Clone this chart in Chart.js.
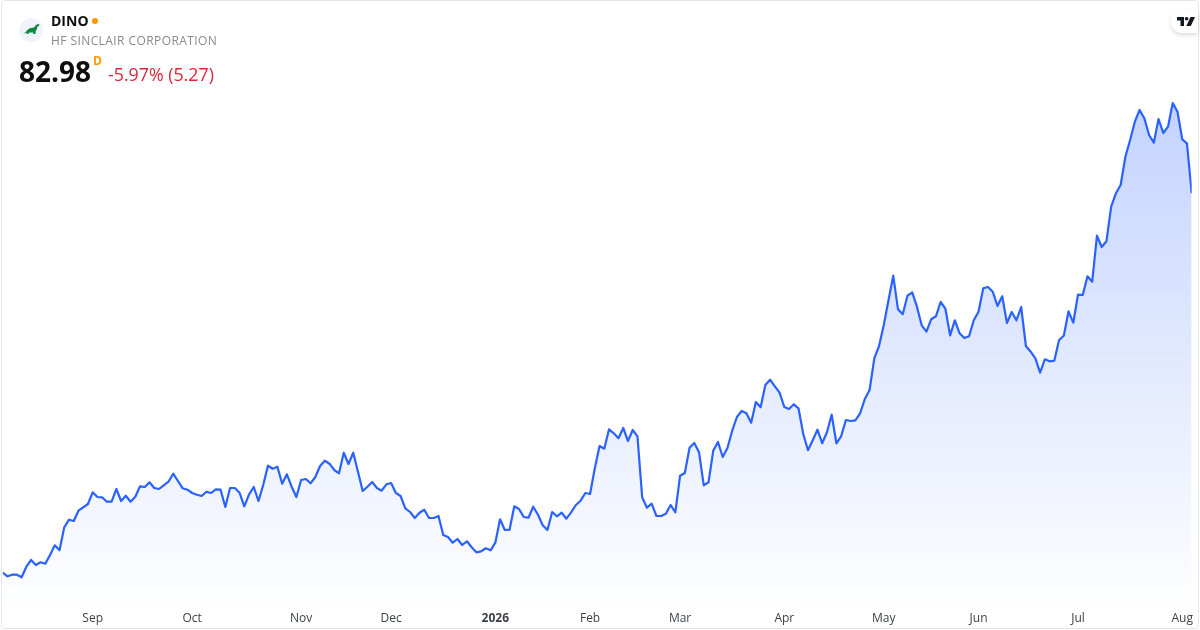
<!DOCTYPE html>
<html>
<head>
<meta charset="utf-8">
<title>DINO</title>
<script src="https://cdn.jsdelivr.net/npm/chart.js@4"></script>
<style>
	html, body { margin: 0; padding: 0; background: #fff; }
	body { width: 1200px; height: 630px; overflow: hidden; position: relative; font-family: "Open Sans", sans-serif; }
	#chartBox { position: absolute; left: 0; top: 0; width: 1200px; height: 630px; }
	#frame { position: absolute; left: 1px; top: 0; width: 1196px; height: 627px; border: 1px solid #e6e6e6; border-radius: 4px; pointer-events: none; }
	.txt { position: absolute; white-space: nowrap; line-height: 1; }
	#symbol { left: 51px; top: 14px; font-size: 14px; font-weight: 700; color: #0f0f0f; }
	#dot { position: absolute; left: 92px; top: 18px; width: 6px; height: 6px; border-radius: 50%; background: #ff9800; }
	#company { left: 51px; top: 35px; font-size: 12px; color: #8a8a8a; letter-spacing: 0.42px; }
	#price { left: 19px; top: 57px; font-size: 28px; font-weight: 700; color: #0f0f0f; }
	#sup { left: 93px; top: 55px; font-size: 12px; font-weight: 700; color: #ff9800; }
	#change { left: 108px; top: 66px; font-size: 17.8px; color: #d9263c; }
	#logo { position: absolute; left: 19px; top: 18px; }
	#tv { position: absolute; left: 1171px; top: 10px; width: 27px; height: 23px; background: #fff; border-radius: 12px 0 0 12px; box-shadow: 0 2px 4px rgba(0,0,0,0.14); }
</style>
</head>
<body>
<div id="chartBox"><canvas id="myChart" width="1200" height="630"></canvas></div>
<div id="frame"></div>
<svg id="logo" width="24" height="24" viewBox="0 0 24 24">
	<circle cx="12" cy="12" r="12" fill="#f0f3fa"/>
	<path d="M4 15.5 C7 15 8.5 10.5 12 10 C14.5 9.7 15.5 9.5 16.5 7.5 L18.5 6 L20.5 6.5 L20 8 L18.5 8.5 C18 11 17.5 12.5 16.5 13.5 L16.5 16 L14.5 16 L14 14.5 L10 14.5 L9.5 16 L7.5 16 L7.5 14.5 C6.5 15.2 5 15.6 4 15.5 Z" fill="#0f8a3c"/>
</svg>
<div id="symbol" class="txt">DINO</div>
<div id="dot"></div>
<div id="company" class="txt">HF SINCLAIR CORPORATION</div>
<div id="price" class="txt">82.98</div>
<div id="sup" class="txt">D</div>
<div id="change" class="txt">-5.97% (5.27)</div>
<div id="tv">
	<svg width="18" height="9" viewBox="0 0 18 9" style="position:absolute;left:6px;top:7px">
		<path d="M0 0 H7 V9 H3.5 V3.5 H0 Z" fill="#131722"/>
		<circle cx="9.6" cy="1.8" r="1.8" fill="#131722"/>
		<path d="M13.5 0 H18 L13.8 9 H9.3 Z" fill="#131722"/>
	</svg>
</div>
<script>
const closePrices = [
	45.03, 44.67, 44.83, 44.83, 44.57, 45.63, 46.3, 45.8, 46.07, 45.93,
	46.8, 47.77, 47.27, 49.57, 50.33, 50.2, 51.23, 51.57, 51.9, 53.07,
	52.6, 52.57, 52.13, 52.13, 53.4, 52.2, 52.73, 52.13, 52.63, 53.67,
	53.6, 54.07, 53.5, 53.4, 53.77, 54.13, 54.93, 54.2, 53.47, 53.33,
	53.0, 52.83, 52.7, 53.13, 53.0, 53.37, 53.33, 51.6, 53.5, 53.5,
	53.03, 51.67, 52.83, 53.6, 52.2, 53.8, 55.73, 55.43, 55.63, 53.93,
	54.87, 53.63, 52.6,
	54.3, 54.4, 53.97, 54.6, 55.7, 56.23, 55.93, 55.3, 54.97, 57.03,
	55.9, 57.03, 55.13, 53.2, 53.63, 54.1, 53.5, 53.23, 53.87, 54.0,
	53.0, 52.7, 51.47, 51.1, 50.5, 51.03, 51.33, 50.5, 50.5, 50.7,
	48.8, 48.6, 48.03, 48.4, 47.8, 48.17, 47.57, 47.07, 47.17, 47.47,
	47.27, 48.03, 50.37, 49.3, 49.33, 51.67, 51.4, 50.6, 50.53, 51.63,
	50.83, 49.77, 49.3, 51.1, 50.67, 51.03, 50.43, 51.07, 51.8, 52.23,
	53.0, 52.9, 55.47, 57.7,
	57.43, 59.37, 58.97, 58.47, 59.5, 58.2, 59.3, 58.67, 52.57, 51.53,
	51.93, 50.7, 50.7, 50.93, 51.8, 51.07, 54.73, 55.0, 57.53, 58.0,
	57.07, 53.77, 54.07, 57.23, 58.1, 56.6, 57.5, 59.23, 60.6, 61.2,
	60.97, 60.03, 62.1, 61.57, 63.8, 64.33, 63.67, 63.03, 61.6, 61.4,
	61.87, 61.47, 58.9, 57.27, 58.27, 59.33, 57.97, 59.07, 60.83, 57.97,
	58.67, 60.3, 60.2, 60.27, 60.97, 62.4, 63.3,
	66.47, 67.7, 69.8, 72.3, 74.73, 71.37, 70.87, 72.73, 73.07, 71.63,
	69.77, 69.13, 70.37, 70.67, 72.1, 71.43, 68.77, 70.27, 68.97, 68.5,
	68.67, 70.27, 71.13, 73.47, 73.6, 73.13, 71.7, 72.67, 70.0, 71.1,
	70.27, 71.6, 67.7, 67.13, 66.47, 65.03, 66.37, 66.17, 66.23, 68.3,
	68.73, 71.17, 70.03, 72.83, 72.8, 74.67, 74.13, 78.73, 77.6, 78.17,
	81.63, 82.97, 83.8, 86.63, 88.3, 90.13, 91.3, 90.47, 88.8, 88.03,
	90.4, 89.0, 89.63, 92.0, 91.13, 88.37, 87.97, 82.98,
];
const tickLabels = ["Sep", "Oct", "Nov", "Dec", "2026", "Feb", "Mar", "Apr", "May", "Jun", "Jul", "Aug"];
const tickBars = [19, 40, 63, 82, 104, 124, 143, 165, 186, 206, 227, 249];
const priceMin = 41.8;
const priceMax = 102.3;

const barIndex = closePrices.map((_, i) => i);

const ctx = document.getElementById("myChart");
// eslint-disable-next-line no-unused-vars
const myChart = new Chart(ctx, {
	type: "line",
	data: {
		labels: barIndex,
		datasets: [
			{
				data: closePrices.map((p, i) => ({ x: barIndex[i], y: p })),
				borderColor: "#2962ff",
				borderWidth: 2.2,
				borderJoinStyle: "round",
				pointRadius: 0,
				tension: 0,
				fill: "start",
				backgroundColor: (c) => {
					const area = c.chart.chartArea;
					if (!area) return "transparent";
					const g = c.chart.ctx.createLinearGradient(0, 100, 0, area.bottom);
					g.addColorStop(0, "rgba(41,98,255,0.28)");
					g.addColorStop(1, "rgba(41,98,255,0.005)");
					return g;
				},
			},
		],
	},
	options: {
		responsive: false,
		animation: false,
		devicePixelRatio: 1,
		layout: { padding: { left: 2.67, right: 8.3, top: 0, bottom: 0 } },
		plugins: {
			legend: { display: false },
			tooltip: { enabled: false },
		},
		scales: {
			x: {
				type: "linear",
				min: 0,
				max: closePrices.length - 1,
				grid: { display: false, drawTicks: false },
				border: { display: false },
				afterBuildTicks: (axis) => {
					axis.ticks = tickBars.map((b) => ({ value: b }));
				},
				afterFit: (axis) => {
					axis.height = 25;
				},
				ticks: {
					autoSkip: false,
					maxRotation: 0,
					padding: 6,
					color: "#3c3f46",
					font: (c) => ({
						family: "'Open Sans', sans-serif",
						size: 12,
						weight: tickLabels[c.index] === "2026" ? "700" : "400",
					}),
					callback: (v) => tickLabels[tickBars.indexOf(v)],
				},
			},
			y: {
				display: false,
				min: priceMin,
				max: priceMax,
			},
		},
	},
});
</script>
</body>
</html>
